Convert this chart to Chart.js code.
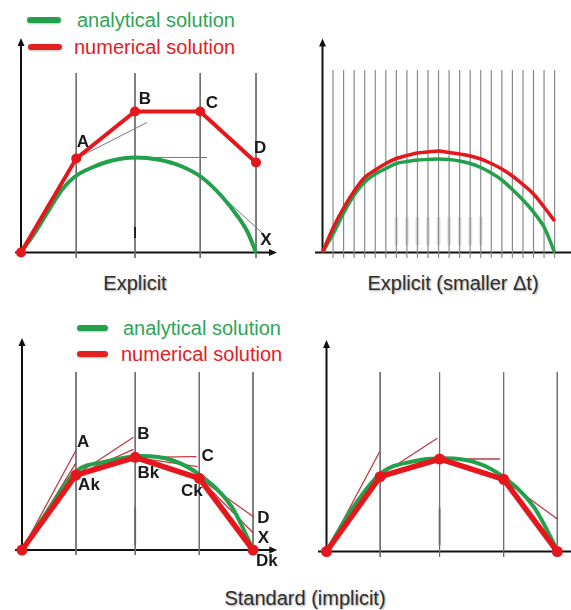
<!DOCTYPE html>
<html><head><meta charset="utf-8">
<script src="https://cdn.jsdelivr.net/npm/chart.js@4.4.0/dist/chart.umd.min.js"></script>
<style>
html,body{margin:0;padding:0;background:#fff;width:571px;height:610px;overflow:hidden;}
body{position:relative;font-family:"Liberation Sans",Arial,sans-serif;}
canvas{position:absolute;}
.leg{position:absolute;font-size:20px;line-height:20px;white-space:nowrap;}
.swatch{position:absolute;height:6px;border-radius:3px;box-shadow:0 1px 2px rgba(0,0,0,0.25);}
.title{position:absolute;font-size:20px;line-height:20px;color:#2e2e2e;text-shadow:1px 1px 2px rgba(0,0,0,0.35);white-space:nowrap;transform:translate(-50%,-50%);}
</style></head><body>
<div class="swatch" style="left:27px;top:17px;width:34px;background:#22a04c"></div>
<div class="leg" style="left:77px;top:10px;color:#2ea556">analytical solution</div>
<div class="swatch" style="left:28px;top:44px;width:34px;background:#e3201f"></div>
<div class="leg" style="left:74px;top:37px;color:#e3201f">numerical solution</div>
<div class="swatch" style="left:77px;top:325px;width:31px;background:#22a04c"></div>
<div class="leg" style="left:123px;top:318px;color:#2ea556">analytical solution</div>
<div class="swatch" style="left:77px;top:351px;width:31px;background:#e3201f"></div>
<div class="leg" style="left:121px;top:344px;color:#e3201f">numerical solution</div>
<div class="title" style="left:135px;top:283px">Explicit</div>
<div class="title" style="left:453px;top:283px">Explicit (smaller Δt)</div>
<div class="title" style="left:305px;top:598px">Standard (implicit)</div>
<script>
// ---------- DATA ----------
// Panel 1: Explicit
const p1Steps = [0, 0.94, 1.94, 3.05, 4.0];
const p1Numerical = [0, 0.94, 1.41, 1.41, 0.90];
const p1AnalyticT = [0, 0.24, 0.46, 0.70, 0.92, 1.21, 1.55, 1.94, 2.33, 2.74, 3.08, 3.42, 3.69, 3.86, 4.0];
const p1AnalyticY = [0, 0.20, 0.41, 0.63, 0.76, 0.85, 0.92, 0.95, 0.93, 0.86, 0.75, 0.56, 0.36, 0.20, 0];
const p1Tangents = [[0.94, 0.94, 2.145, 1.30], [1.94, 0.95, 3.17, 0.95], [3.08, 0.745, 4.19, 0.15]];
const p1Labels = ['A', 'B', 'C', 'D', 'X'];
const p1LabelT = [1.055, 2.11, 3.25, 4.07, 4.17];
const p1LabelY = [1.105, 1.535, 1.495, 1.045, 0.125];

// Panel 2: Explicit (smaller Δt)
const p2Steps = [0,1,2,3,4,5,6,7,8,9,10,11,12,13,14,15,16,17,18,19,20,21,22];
const p2Analytic = [0,0.185,0.395,0.575,0.705,0.785,0.84,0.89,0.91,0.925,0.93,0.935,0.93,0.915,0.89,0.85,0.795,0.725,0.63,0.525,0.405,0.255,0];
const p2Numerical = [0,0.245,0.445,0.615,0.75,0.825,0.89,0.94,0.97,0.995,1.005,1.015,1.0,0.985,0.965,0.935,0.89,0.835,0.765,0.68,0.585,0.455,0.315];
const p2Smudges = [7, 8, 9, 10, 11, 12, 13, 14, 15];

// Panel 3: Standard (implicit), labelled
const p3Steps = [0, 0.935, 1.96, 3.07, 4.0];
const p3Numerical = [0, 0.75, 0.927, 0.717, 0];
const p3AnalyticT = [0, 0.456, 0.93, 1.44, 2.07, 2.59, 3.08, 3.63, 3.99];
const p3AnalyticY = [0, 0.40, 0.783, 0.883, 0.94, 0.90, 0.75, 0.433, 0.02];
const p3Tangents = [
  [0, 0, 0.93, 0.993], [0, 0, 0.93, 0.867],
  [0.935, 0.75, 1.93, 1.127], [0.935, 0.75, 1.93, 1.007],
  [1.96, 0.927, 3.02, 0.933], [1.96, 0.927, 3.04, 0.833],
  [3.07, 0.717, 4.02, 0.327], [3.07, 0.717, 4.0, 0.173]
];
const p3Labels = ['A', 'B', 'C', 'Ak', 'Bk', 'Ck', 'D', 'X', 'Dk'];
const p3LabelT = [1.06, 2.10, 3.215, 1.16, 2.187, 2.94, 4.18, 4.18, 4.24];
const p3LabelY = [1.073, 1.16, 0.94, 0.65, 0.767, 0.583, 0.32, 0.12, -0.117];

// Panel 4: Standard (implicit)
const p4Steps = [0, 0.93, 1.96, 3.07, 4.0];
const p4Numerical = [0, 0.748, 0.925, 0.722, 0];
const p4AnalyticT = [0, 0.43, 0.94, 1.47, 2.05, 2.63, 3.06, 3.59, 4.0];
const p4AnalyticY = [0, 0.415, 0.782, 0.898, 0.932, 0.882, 0.748, 0.448, 0.015];
const p4Tangents = [[0, 0, 0.92, 0.998], [0.94, 0.765, 1.92, 1.132], [1.96, 0.925, 3.01, 0.925], [3.06, 0.722, 4.0, 0.325]];

// ---------- LAYOUT / STYLE ----------
const RED = '#e5161c', GREEN = '#22a04c', THINRED = 'rgba(185,35,45,0.9)';
const layouts = {
  p1: {left:0, top:0, w:290, h:300, ox:21, oy:252.5, ux:58.75, uy:100},
  p2: {left:290, top:0, w:281, h:300, ox:322.5, oy:252.5, ux:10.55, uy:100},
  p3: {left:0, top:300, w:290, h:310, ox:22, oy:550, ux:57.75, uy:100},
  p4: {left:290, top:300, w:281, h:310, ox:326.5, oy:551.5, ux:57.7, uy:100}
};

function pts(xs, ys){ return xs.map((v,i)=>({x:v, y:ys[i]})); }
function segs(list){ const out=[]; list.forEach(s=>{ out.push({x:s[0],y:s[1]},{x:s[2],y:s[3]},{x:s[2],y:null}); }); return out; }
function vlines(xs, top, bot){ return segs(xs.map(v=>[v, top, v, bot])); }

const decor = {
  id: 'decor',
  beforeDatasetsDraw(chart, args, o){
    const {ctx} = chart, x = chart.scales.x, y = chart.scales.y;
    const a = o.axes;
    const y0 = y.getPixelForValue(0), x0 = x.getPixelForValue(0);
    ctx.save();
    ctx.strokeStyle = '#111'; ctx.fillStyle = '#111'; ctx.lineWidth = 2;
    const xs = x.getPixelForValue(a.xFrom), xe = x.getPixelForValue(a.xTo);
    ctx.beginPath(); ctx.moveTo(xs, y0); ctx.lineTo(xe - (a.xArrow ? 5 : 0), y0); ctx.stroke();
    if (a.xArrow){ ctx.beginPath(); ctx.moveTo(xe, y0); ctx.lineTo(xe-8, y0-3.5); ctx.lineTo(xe-8, y0+3.5); ctx.closePath(); ctx.fill(); }
    const yt = y.getPixelForValue(a.yTo);
    ctx.beginPath(); ctx.moveTo(x0, y0); ctx.lineTo(x0, yt + 5); ctx.stroke();
    ctx.beginPath(); ctx.moveTo(x0, yt); ctx.lineTo(x0-3.5, yt+8); ctx.lineTo(x0+3.5, yt+8); ctx.closePath(); ctx.fill();
    ctx.restore();
  },
  afterDatasetsDraw(chart, args, o){
    if (!o.labels) return;
    const {ctx} = chart, x = chart.scales.x, y = chart.scales.y;
    ctx.save();
    ctx.fillStyle = '#1a1a1a';
    ctx.font = 'bold 17px "Liberation Sans", Arial, sans-serif';
    ctx.textAlign = 'center'; ctx.textBaseline = 'middle';
    o.labels.forEach((t,i)=>{ ctx.fillText(t, x.getPixelForValue(o.lt[i]), y.getPixelForValue(o.ly[i])); });
    ctx.restore();
  }
};

function makeChart(L, datasets, decorOpts){
  const c = document.createElement('canvas');
  c.width = L.w; c.height = L.h;
  c.style.left = L.left + 'px'; c.style.top = L.top + 'px';
  c.style.width = L.w + 'px'; c.style.height = L.h + 'px';
  document.body.appendChild(c);
  datasets.forEach(d=>{ if (d.pointRadius === undefined) d.pointRadius = 0; d.fill = false; });
  return new Chart(c.getContext('2d'), {
    type: 'line',
    data: { datasets },
    options: {
      responsive: false, animation: false, devicePixelRatio: 1, events: [],
      layout: { padding: 0, autoPadding: false },
      scales: {
        x: { type: 'linear', display: false, min: -(L.ox - L.left)/L.ux, max: (L.left + L.w - L.ox)/L.ux },
        y: { type: 'linear', display: false, min: -(L.top + L.h - L.oy)/L.uy, max: (L.oy - L.top)/L.uy }
      },
      plugins: { legend: {display:false}, tooltip: {enabled:false}, decor: decorOpts }
    },
    plugins: [decor]
  });
}

// Panel 1
makeChart(layouts.p1, [
  { data: pts(p1Steps, p1Numerical), borderColor: RED, borderWidth: 4, pointRadius: 5, pointBackgroundColor: RED, pointBorderWidth: 0, tension: 0 },
  { data: pts(p1AnalyticT, p1AnalyticY), borderColor: GREEN, borderWidth: 4, cubicInterpolationMode: 'monotone' },
  { data: segs(p1Tangents), borderColor: '#7a7a7a', borderWidth: 1 },
  { data: vlines([1.94], 0.145, 0.255), borderColor: '#222', borderWidth: 2 },
  { data: vlines(p1Steps.slice(1), 1.795, -0.055), borderColor: '#6e6e6e', borderWidth: 1 }
], { axes: {xFrom: -0.10, xTo: 4.357, xArrow: true, yTo: 2.145}, labels: p1Labels, lt: p1LabelT, ly: p1LabelY });

// Panel 2
makeChart(layouts.p2, [
  { data: pts(p2Steps, p2Numerical), borderColor: RED, borderWidth: 3.5, tension: 0.3 },
  { data: pts(p2Steps, p2Analytic), borderColor: GREEN, borderWidth: 3.5, tension: 0.3 },
  { data: vlines(p2Smudges, 0.355, 0.075), borderColor: 'rgba(120,120,120,0.2)', borderWidth: 4 },
  { data: vlines(p2Steps.slice(1), 1.825, -0.055), borderColor: '#8a8a8a', borderWidth: 1.2 }
], { axes: {xFrom: -0.71, xTo: 23.6, xArrow: false, yTo: 2.14} });

// Panel 3
makeChart(layouts.p3, [
  { data: pts(p3Steps, p3Numerical), borderColor: RED, borderWidth: 5.5, pointRadius: 5.5, pointBackgroundColor: RED, pointBorderWidth: 0, tension: 0 },
  { data: pts(p3AnalyticT, p3AnalyticY), borderColor: GREEN, borderWidth: 4, cubicInterpolationMode: 'monotone' },
  { data: segs(p3Tangents), borderColor: THINRED, borderWidth: 1.3 },
  { data: vlines([1.96], 0.05, 0.43), borderColor: '#666', borderWidth: 1.8 },
  { data: vlines(p3Steps.slice(1), 1.78, -0.05), borderColor: '#6e6e6e', borderWidth: 1 }
], { axes: {xFrom: -0.12, xTo: 4.42, xArrow: true, yTo: 2.12}, labels: p3Labels, lt: p3LabelT, ly: p3LabelY });

// Panel 4
makeChart(layouts.p4, [
  { data: pts(p4Steps, p4Numerical), borderColor: RED, borderWidth: 5.5, pointRadius: 5.5, pointBackgroundColor: RED, pointBorderWidth: 0, tension: 0 },
  { data: pts(p4AnalyticT, p4AnalyticY), borderColor: GREEN, borderWidth: 4, cubicInterpolationMode: 'monotone' },
  { data: segs(p4Tangents), borderColor: THINRED, borderWidth: 1.3 },
  { data: vlines([1.96], 0.065, 0.44), borderColor: '#666', borderWidth: 1.8 },
  { data: vlines(p4Steps.slice(1), 1.795, -0.055), borderColor: '#6e6e6e', borderWidth: 1 }
], { axes: {xFrom: -0.147, xTo: 4.4, xArrow: false, yTo: 2.115} });
</script>
</body></html>
